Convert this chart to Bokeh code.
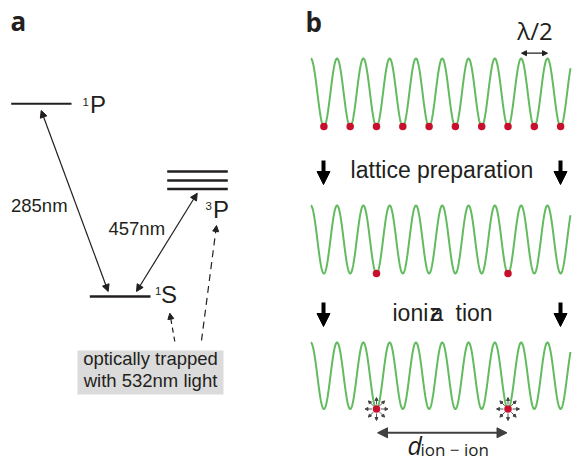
import numpy as np
from bokeh.plotting import figure
from bokeh.models import Range1d, Arrow, NormalHead
from bokeh.core.properties import value
from bokeh.embed import file_html
from bokeh.resources import INLINE

# ---------------- data ----------------
level_names = ["1P", "3P", "1S"]
transition_labels = ["285nm", "457nm"]
trap_label = ["optically trapped", "with 532nm light"]
n_sites = 10
sites = list(range(n_sites))
row1_occupied = [0, 1, 2, 3, 4, 5, 6, 7, 8, 9]
row2_occupied = [2, 7]
row3_ions = [2, 7]
step_labels = ["lattice preparation", "ionization"]

# ---------------- layout ----------------
W, H = 575, 462
TXT = "#231f20"
GREEN = "#62bb5f"
RED = "#c8102e"
SANS = "Liberation Sans"
MYR = "Open Sans"
K = 0.43  # baseline correction (fraction of font size)

p = figure(width=W, height=H, output_backend="svg", toolbar_location=None,
           x_range=Range1d(0, W), y_range=Range1d(H, 0),
           x_axis_type=None, y_axis_type=None, min_border=0)
p.grid.visible = False
p.outline_line_color = None
p.background_fill_color = "white"
p.border_fill_color = "white"

def txt(x, y, s, size, font=SANS, align="left", style="normal", color=TXT):
    p.text(x=[x], y=[y - K * size], text=[s], text_font=value(font),
           text_font_size=value(f"{size}px"),
           text_align=align, text_baseline="alphabetic", text_font_style=style, text_color=color)

def arrow(x0, y0, x1, y1, both=False, size=7, width=1.2, dash="solid", color=TXT):
    p.add_layout(Arrow(x_start=x0, y_start=y0, x_end=x1, y_end=y1,
                       line_width=width, line_color=color, line_dash=dash,
                       end=NormalHead(size=size, fill_color=color, line_color=color, line_width=1),
                       start=NormalHead(size=size, fill_color=color, line_color=color, line_width=1) if both else None))

# ---------------- panel a ----------------
txt(10, 32, "a", 26, font=MYR, style="bold")
p.segment(x0=[10.7], y0=[103.3], x1=[71], y1=[103.3], line_width=2, line_color=TXT)
p.segment(x0=[166.7] * 3, y0=[171, 180, 188.5], x1=[227.3] * 3, y1=[171, 180, 188.5],
          line_width=2.5, line_color=TXT)
p.segment(x0=[89.3], y0=[296], x1=[150], y1=[296], line_width=2.5, line_color=TXT)
for (sx, sy, bx, by, name) in [(82, 106.5, 89.5, 114, level_names[0]),
                                (205, 210.5, 212.5, 219, level_names[1]),
                                (154.5, 295, 160.5, 304.5, level_names[2])]:
    txt(sx, sy, name[0], 11.5)
    txt(bx, by, name[1], 24)
arrow(40.7, 110, 107.7, 291, both=True, size=7)
arrow(136, 291, 196.7, 192.7, both=True, size=7)
txt(10.5, 213, transition_labels[0], 18.5)
txt(108, 236, transition_labels[1], 18.5)
p.quad(left=[77], right=[223], top=[350], bottom=[394], fill_color="#dcdbdc", line_color=None)
txt(150, 365.5, trap_label[0], 18.5, align="center")
txt(150, 388, trap_label[1], 18.5, align="center")
arrow(174.3, 341, 169.3, 312.7, size=6, dash="5 4")
arrow(201, 340, 216, 225, size=6, dash="7 5")

# ---------------- panel b ----------------
txt(305, 33, "b", 26, font=MYR, style="bold")
x_site0, pitch = 323.4, 26.3
x_wave = np.linspace(310.3, 570, 800)
site_x = [x_site0 + pitch * s for s in sites]
rows = [(58, 126, row1_occupied), (205, 273, row2_occupied), (342, 408.5, row3_ions)]
for (ytop, ybot, occ) in rows:
    mid, amp = (ytop + ybot) / 2, (ybot - ytop) / 2
    yw = mid + amp * np.cos(2 * np.pi * (x_wave - x_site0) / pitch)
    p.line(x_wave, yw, line_color=GREEN, line_width=2)
    p.scatter(x=[site_x[i] for i in occ], y=[ybot] * len(occ), size=7.5,
              fill_color=RED, line_color=None)

txt(534.5, 40, "λ/2", 24, font=MYR, align="center")
arrow(521, 52.7, 547, 52.7, both=True, size=5, width=1.2)

for (y0, y1) in [(160, 184), (302, 326)]:
    for xa in [323, 560]:
        arrow(xa, y0, xa, y1, size=13, width=4, color="#000000")

txt(441.5, 179.5, step_labels[0], 23, align="center")
s = step_labels[1]
txt(392, 322, s[:4], 23)
txt(429, 322, s[4], 23)
txt(430, 322, s[5], 23)
txt(455, 322, s[6:], 23)

r_ion = 408.5
for i in row3_ions:
    cx = site_x[i]
    for k in range(8):
        a = k * np.pi / 4
        arrow(cx + 4.5 * np.cos(a), r_ion + 4.5 * np.sin(a),
              cx + 11.5 * np.cos(a), r_ion + 11.5 * np.sin(a),
              size=3, width=0.9, color="#444444")

arrow(site_x[row3_ions[0]] + 1, 432.3, site_x[row3_ions[1]] - 1, 432.3, both=True, size=10,
      width=2, color="#404040")
txt(407, 455, "d", 25, font=MYR, style="italic")
txt(420, 456, "ion − ion", 17, font=MYR)

open("out.html", "w").write(file_html(p, INLINE))
